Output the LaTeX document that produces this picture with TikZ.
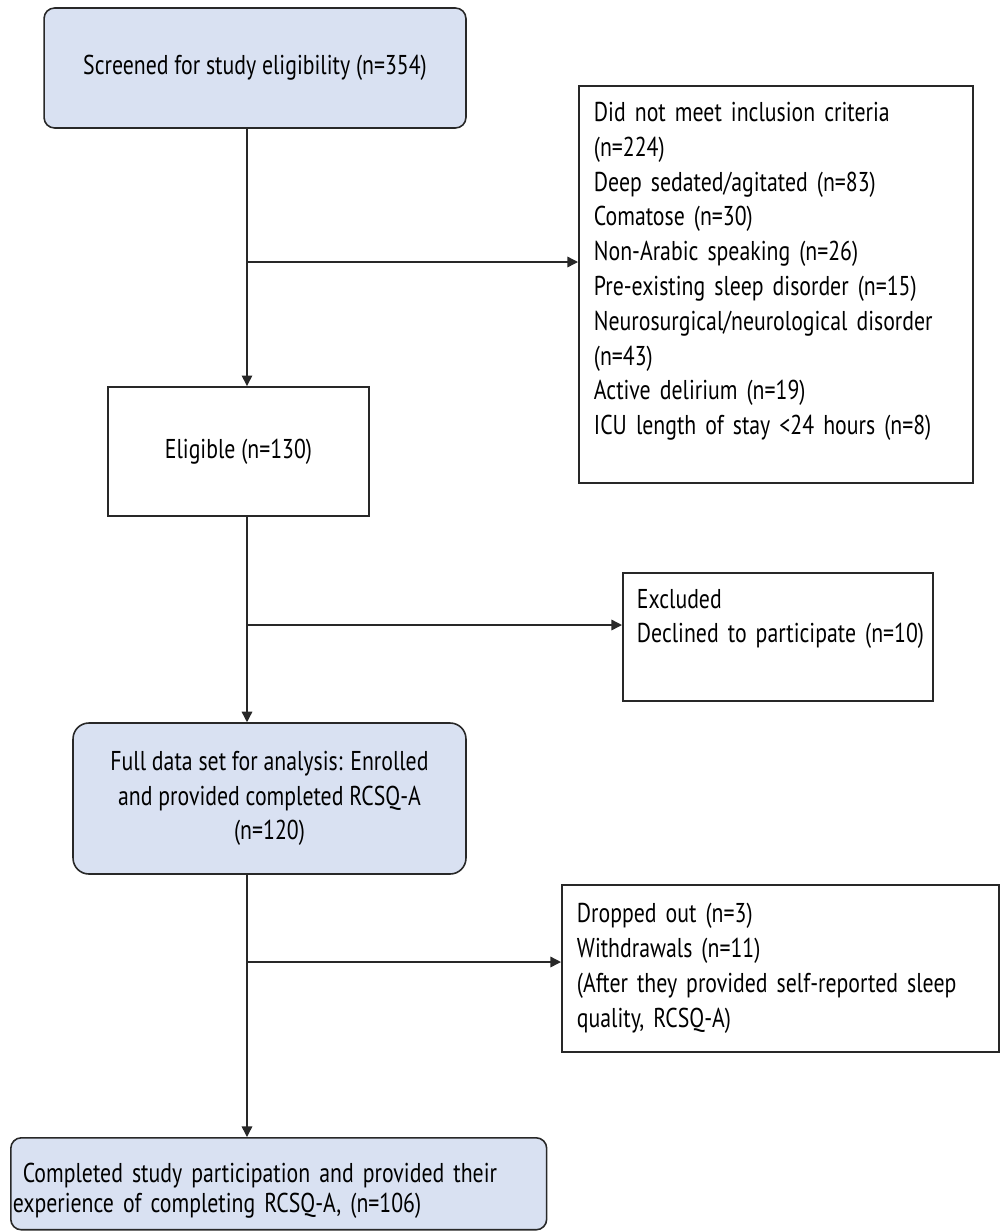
\documentclass[tikz,border=0pt]{standalone}
\usepackage{fontspec}
\setmainfont{PT Sans}[FakeStretch=0.80]
\usetikzlibrary{positioning}
\usetikzlibrary{arrows.meta}
\definecolor{boxblue}{RGB}{217,225,242}
\definecolor{edgegray}{RGB}{40,40,40}
\newcommand{\flowfont}{\fontsize{15.5}{19.8}\selectfont}
\newcommand{\padbelow}[1]{\par\nointerlineskip\hbox{\rule{0pt}{#1}}}

\begin{document}
\begin{tikzpicture}[x=0.02cm,y=-0.02cm,
  rbox/.style={rectangle,draw=edgegray,fill=boxblue,rounded corners=6pt,
    line width=0.9pt,align=center,font=\flowfont},
  pbox/.style={rectangle,draw=edgegray,line width=1.1pt,align=left,
    font=\flowfont},
  arr/.style={-{Triangle[length=6pt,width=6pt]},line width=0.8pt,color=edgegray}
]
  \useasboundingbox (0,0) rectangle (1000,1231);

  \node[rbox,minimum width=8.44cm,minimum height=2.4cm] (screen) at (255,68)
    {Screened for study eligibility (n=354)};
  \node[pbox,align=center,minimum width=5.22cm,minimum height=2.58cm] (elig)
    at (238.5,451.5) {Eligible (n=130)};
  \node[pbox,anchor=north west,text width=7.28cm,inner xsep=0.3cm,
    minimum height=7.94cm] (crit) at (578,85)
    {Did not meet inclusion criteria\\(n=224)\\Deep sedated/agitated (n=83)\\
     Comatose (n=30)\\Non-Arabic speaking (n=26)\\
     Pre-existing sleep disorder (n=15)\\Neurosurgical/neurological disorder\\
     (n=43)\\Active delirium (n=19)\\ICU length of stay <24 hours (n=8)%
     \padbelow{14.7pt}};
  \node[pbox,anchor=north west,text width=5.64cm,inner xsep=0.28cm,
    minimum height=2.56cm] (excl) at (622,572)
    {Excluded\\\mbox{Declined to participate (n=10)}\padbelow{20.4pt}};
  \node[rbox,rounded corners=9pt,minimum width=7.86cm,minimum height=3.02cm]
    (full) at (269.5,798.5)
    {Full data set for analysis: Enrolled\\and provided completed RCSQ-A\\(n=120)};
  \node[pbox,anchor=north west,text width=8.14cm,inner xsep=0.3cm,
    minimum height=3.34cm] (drop) at (561,884)
    {Dropped out (n=3)\\Withdrawals (n=11)\\
     (After they provided self-reported sleep\\quality, RCSQ-A)};
  \node[rbox,anchor=north west,align=left,text width=10.64cm,inner xsep=0.04cm,
    minimum height=1.84cm,font=\fontsize{15.5}{17.6}\selectfont] (done) at (10,1137)
    {\rule{0pt}{19pt}\hspace*{0.2cm}Completed study participation and provided their\\
     experience of completing RCSQ-A, (n=106)};

  % spine and side branches
  \coordinate (sp) at (247,0);
  \coordinate (j1) at (247,262);
  \coordinate (j2) at (247,625);
  \coordinate (j3) at (247,962);
  \draw[arr] (screen.south -| sp) -- (elig.north -| sp);
  \draw[arr] (j1) -- (j1 -| crit.west);
  \draw[arr] (elig.south -| sp) -- (full.north -| sp);
  \draw[arr] (j2) -- (j2 -| excl.west);
  \draw[arr] (full.south -| sp) -- (done.north -| sp);
  \draw[arr] (j3) -- (j3 -| drop.west);
\end{tikzpicture}
\end{document}
